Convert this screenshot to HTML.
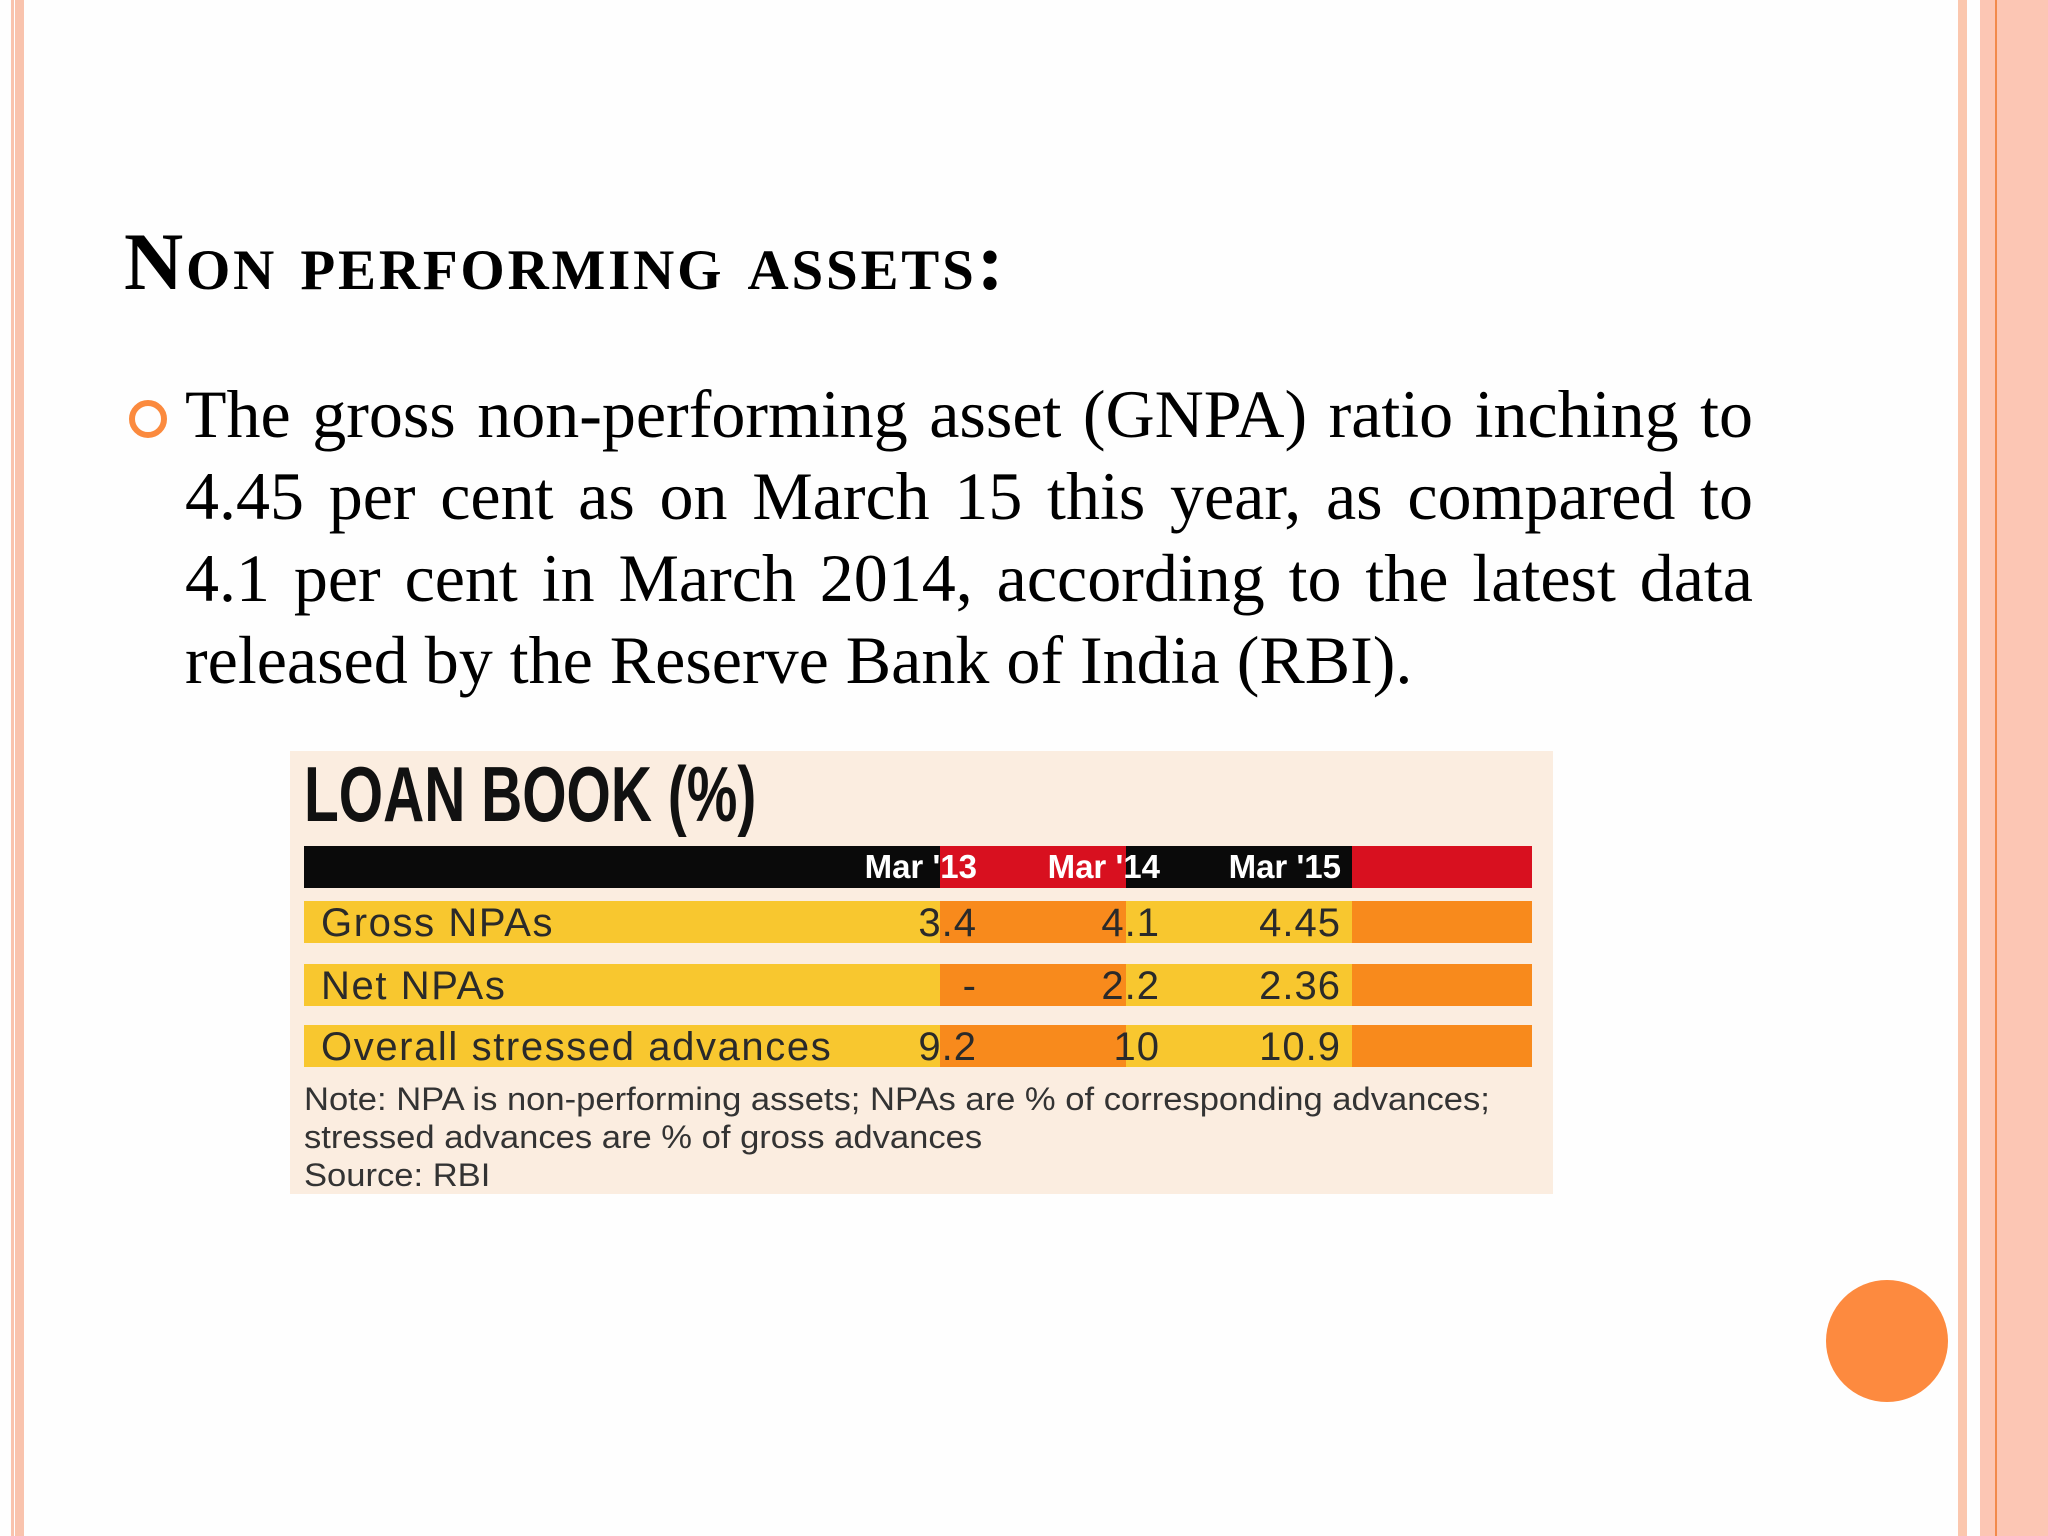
<!DOCTYPE html>
<html><head><meta charset="utf-8">
<style>
body{margin:0;width:2048px;height:1536px;background:#fefefe;position:relative;overflow:hidden;font-family:"Liberation Serif",serif}
.abs{position:absolute}
.narrow{font-family:"Liberation Sans Narrow","Liberation Sans",sans-serif}
</style></head><body>
<div class="abs" style="left:11px;top:0;width:3px;height:1536px;background:#f9c3ad"></div>
<div class="abs" style="left:15px;top:0;width:9px;height:1536px;background:#f9c3ad"></div>
<div class="abs" style="left:1958px;top:0;width:9px;height:1536px;background:#fbc7ae"></div>
<div class="abs" style="left:1980px;top:0;width:68px;height:1536px;background:#fcc6b4"></div>
<div class="abs" style="left:1995px;top:0;width:2px;height:1536px;background:#f28a4c"></div>

<div class="abs" style="left:124px;top:212px;font-size:82px;font-weight:bold;line-height:100px;font-variant:small-caps;letter-spacing:2.8px;white-space:nowrap">Non performing assets:</div>

<div class="abs" style="left:129px;top:400px;width:26px;height:26px;border:6px solid #fb8a3e;border-radius:50%"></div>
<div class="abs" style="left:185px;top:373px;width:1568px;font-size:68px;line-height:82px;text-align:justify">The gross non-performing asset (GNPA) ratio inching to 4.45 per cent as on March 15 this year, as compared to 4.1 per cent in March 2014, according to the latest data released by the Reserve Bank of India (RBI).</div>

<div class="abs narrow" id="tbl" style="left:290px;top:751px;width:1263px;height:443px;background:#fbede0">
  <div class="abs" style="left:14px;top:-2px;font-size:78px;font-weight:bold;line-height:90px;color:#111;transform:scaleX(0.73);transform-origin:left">LOAN BOOK (%)</div>
  <div class="abs" style="left:14px;top:329px;font-size:32px;line-height:38px;color:#333;white-space:nowrap;transform:scaleX(1.08);transform-origin:left">Note: NPA is non-performing assets; NPAs are % of corresponding advances;<br>stressed advances are % of gross advances<br>Source: RBI</div>
</div>
<script>
const columns=["Mar '13","Mar '14","Mar '15"];
const rowLabels=["Gross NPAs","Net NPAs","Overall stressed advances"];
const mar13=["3.4","-","9.2"];
const mar14=["4.1","2.2","10"];
const mar15=["4.45","2.36","10.9"];
const tbl=document.getElementById('tbl');
const L=14,W=1228,segs=[[650,836],[1062,1242]];
function band(top,h,base,accent,name){
  const b=document.createElement('div');b.className='abs';
  b.style.cssText=`left:${L}px;top:${top}px;width:${W}px;height:${h}px;background:${base}`;
  
  
  segs.forEach(s=>{const d=document.createElement('div');d.className='abs';d.style.cssText=`left:${s[0]-L}px;top:0;width:${s[1]-s[0]}px;height:${h}px;background:${accent}`;b.appendChild(d);});
  tbl.appendChild(b);return b;
}
const colRight=[687,870,1051];
function txt(t,x,top,size,color,right,bold,ls){
  const d=document.createElement('div');d.className='abs';d.textContent=t;
  d.style.cssText=`top:${top}px;font-size:${size}px;line-height:42px;color:${color};white-space:nowrap;letter-spacing:${ls||0}px;${bold?'font-weight:bold;':''}`+(right?`right:${1263-x}px;`:`left:${x}px;`);
  tbl.appendChild(d);return d;
}
band(95,42,'#0a0a0a','#d8101f','header-bar');
columns.forEach((c,i)=>{const e=txt(c,colRight[i],95,33,'#fff',true,true,0);

});
const series=[mar13,mar14,mar15];
const rowTops=[150,213,274];
rowLabels.forEach((r,j)=>{
  band(rowTops[j],42,'#f8c72f','#f88a1c','row-band');
  const e=txt(r,31,rowTops[j]+1,40,'#2a2a2a',false,false,1.6);
  
  
  series.forEach((s,i)=>{const v=txt(s[j],colRight[i],rowTops[j]+1,40,'#2a2a2a',true,false,1);
  
  });
});
</script>

<div class="abs" style="left:1826px;top:1280px;width:122px;height:122px;border-radius:50%;background:#fd8a3f"></div>
</body></html>
